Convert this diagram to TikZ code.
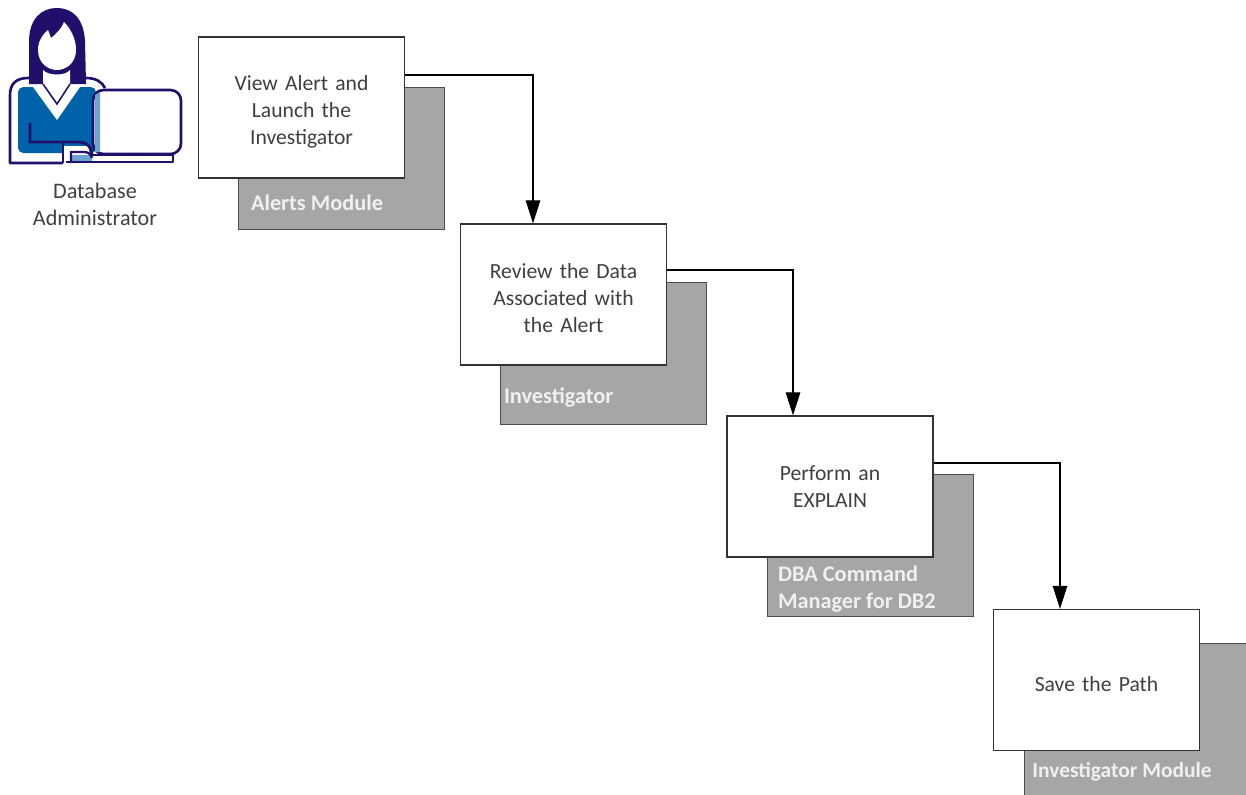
\documentclass[tikz,border=0pt]{standalone}
\usepackage{fontspec}
\setmainfont{Carlito}
\usetikzlibrary{arrows.meta}
\definecolor{iconpurple}{HTML}{20106B}
\definecolor{iconblue}{HTML}{0063A9}
\definecolor{iconlight}{HTML}{6FA3CF}
\definecolor{shadowgray}{HTML}{A6A6A6}
\definecolor{captiongray}{HTML}{3F3F3F}
\tikzset{
  stepbox/.style = {shape=rectangle, draw=black!80, line width=0.7pt, fill=white,
                    minimum width=4.12cm, minimum height=2.82cm,
                    text width=3.9cm, align=center, text=captiongray,
                    font=\fontsize{12.3}{15.35}\selectfont, inner sep=0pt},
  lowstepbox/.style = {stepbox, execute at begin node={\rule{0pt}{13pt}}},
  shadowbox/.style = {shape=rectangle, draw=black!70, line width=0.4pt, fill=shadowgray,
                      minimum width=4.12cm, minimum height=2.84cm, inner sep=0pt},
  shadowtext/.style = {anchor=west, align=left, text=white!94!black, inner sep=0pt,
                       font=\fontsize{12.7}{15.35}\selectfont\bfseries},
  arrow/.style = {line width=0.6pt, -{Triangle[length=0.46cm,width=0.29cm]}},
  iconline/.style = {draw=iconpurple, line width=1.5pt, line join=round}
}
\begin{document}
\begin{tikzpicture}[node distance=3.9cm]
  \clip (0,0) rectangle (24.92,15.88);
  % grey boxes behind the steps
  \node (alerts) [shadowbox] at (6.82,12.72) {};
  \node (inv) [shadowbox, below of=alerts, xshift=5.24cm] {};
  \node (dba) [shadowbox, below of=inv, xshift=5.34cm, yshift=0.06cm] {};
  \node (module) [shadowbox, anchor=north west, minimum width=5cm, minimum height=3.4cm] at (20.48,3.02) {};

  \node (alertstxt) [shadowtext] at ([xshift=0.26cm,yshift=0.54cm]alerts.south west) {Alerts Module};
  \node (invtxt) [shadowtext] at ([xshift=0.08cm,yshift=0.54cm]inv.south west) {Investigator};
  \node (dbatxt) [shadowtext] at ([xshift=0.22cm,yshift=0.54cm]dba.south west) {DBA Command\\Manager for DB2};
  \node (moduletxt) [shadowtext, font=\fontsize{12.2}{15.35}\selectfont\bfseries] at (20.64,0.44) {Investigator Module};

  % steps
  \node (view) [lowstepbox] at ([xshift=-0.79cm,yshift=1.01cm]alerts) {View Alert and\\Launch the\\Investigator};
  \node (review) [lowstepbox] at ([xshift=-0.79cm,yshift=1.17cm]inv) {Review the Data\\Associated with\\the Alert};
  \node (explain) [stepbox] at ([xshift=-0.8cm,yshift=1.17cm]dba) {Perform an\\EXPLAIN};
  \node (save) [lowstepbox] at (21.93,2.28) {Save the Path};

  \draw [arrow] ([yshift=0.65cm]view.east) -| ([xshift=-0.61cm]review.north);
  \draw [arrow] ([yshift=0.49cm]review.east) -| ([xshift=-0.74cm]explain.north);
  \draw [arrow] ([yshift=0.47cm]explain.east) -| ([xshift=-0.73cm]save.north);

  % the administrator
  \begin{scope}[shift={(0,15.88)}, x=0.02cm, y=-0.02cm]
    \draw [iconline] (63,163) -- (10,163) -- (10,95) .. controls (10,84) and (16,78) .. (28,78) -- (86,78) .. controls (96,78) and (102,82) .. (105,88);
    \fill [iconblue, rounded corners=3pt] (18,153) -- (18,87) -- (96,87) -- (96,153) -- cycle;
    % hair and face
    \fill [iconpurple] (29,84) -- (29,42) .. controls (29,18) and (42,8) .. (57,8) .. controls (72,8) and (84,18) .. (85,42) -- (86,84) -- cycle;
    \fill [white] (43,70) .. controls (48,76) and (66,76) .. (70,70) -- (70,84) -- (80,87) -- (57,120) -- (33,87) -- (43,84) -- cycle;
    \fill [white] (48,30) .. controls (44,33) and (38,40) .. (38,50) .. controls (38,63) and (48,70) .. (57,70) .. controls (66,70) and (76,63) .. (76,50) .. controls (76,38) and (70,28) .. (64,22) .. controls (62,28) and (56,34) .. (51,38) -- cycle;
    \draw [iconpurple, line width=0.9pt] (43,84) -- (57,104) -- (70,84);
    % arm and desk
    \fill [white] (63,146) -- (88,146) -- (92,163) -- (63,163) -- cycle;
    \draw [iconpurple, line width=1.6pt] (30,123) -- (30,142) -- (78,142) .. controls (87,142) and (92,147) .. (92,156);
    \draw [iconpurple, line width=1.3pt] (63,142) -- (63,163);
    \fill [iconlight] (71,155) -- (92,155) -- (92,161) -- (71,161) -- cycle;
    \draw [iconpurple, line width=1.3pt] (71,162) -- (71,152) -- (84,152) .. controls (88,152) and (91,154) .. (92,158);
    % laptop
    \draw [iconline, fill=white, rounded corners=6pt] (93,154) -- (93,90) -- (181,90) -- (181,154) -- cycle;
    \fill [iconlight] (95,95) -- (100,92) -- (100,152) -- (95,152) -- cycle;
    \draw [iconline] (92,155) -- (173,155) -- (173,162) -- (66,162);
  \end{scope}
  \node (admin) [align=center, text=captiongray, inner sep=0pt, font=\fontsize{12.6}{15.35}\selectfont] at (1.9,11.8) {Database\\Administrator};
\end{tikzpicture}
\end{document}
